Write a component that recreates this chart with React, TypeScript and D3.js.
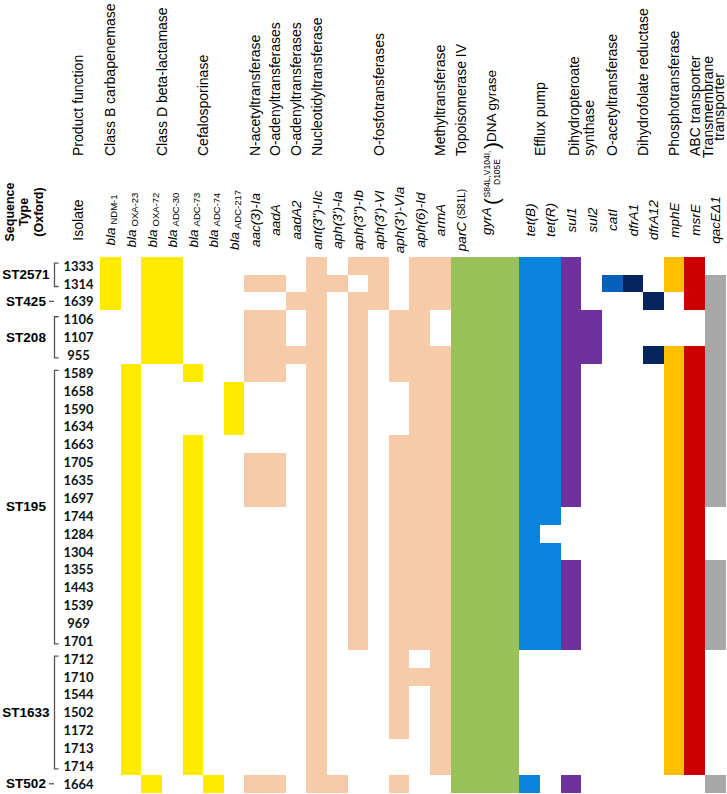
import React from 'react';
import * as d3 from 'd3';

// ---------------- DATA ----------------
const isolates = ['1333','1314','1639','1106','1107','955','1589','1658','1590','1634','1663','1705','1635','1697','1744','1284','1304','1355','1443','1539','969','1701','1712','1710','1544','1502','1172','1713','1714','1664'];

const stNames = ['ST2571','ST425','ST208','ST195','ST1633','ST502'];
const stSizes = [2, 1, 3, 16, 7, 1];

const geneIds = ['blaNDM-1','blaOXA-23','blaOXA-72','blaADC-30','blaADC-73','blaADC-74','blaADC-217','aac(3)-Ia','aadA','aadA2',"ant(3'')-IIc","aph(3')-Ia","aph(3'')-Ib","aph(3')-VI","aph(3')-VIa",'aph(6)-Id','armA','parC','gyrA','tet(B)','tet(R)','sul1','sul2','catI','dfrA1','dfrA12','mphE','msrE','qacEΔ1'];
const geneMain = ['bla','bla','bla','bla','bla','bla','bla','aac(3)-Ia','aadA','aadA2',"ant(3'')-IIc","aph(3')-Ia","aph(3'')-Ib","aph(3')-VI","aph(3')-VIa",'aph(6)-Id','armA','parC','gyrA','tet(B)','tet(R)','sul1','sul2','catI','dfrA1','dfrA12','mphE','msrE','qacEΔ1'];
const geneSub = ['NDM-1','OXA-23','OXA-72','ADC-30','ADC-73','ADC-74','ADC-217','','','','','','','','','','','','','','','','','','','','','',''];
const gyrAMutations = ['S84L,V104I,', 'D105E'];
const parCMutation = '(S81L)';

// presence per gene, one char per isolate (rows 0-9 | 10-19 | 20-29)
const presence = [
  '1110000000 0000000000 0000000000', // blaNDM-1
  '0000001111 1111111111 1111111110', // blaOXA-23
  '1111110000 0000000000 0000000001', // blaOXA-72
  '1111110000 0000000000 0000000000', // blaADC-30
  '0000001000 1111111111 1111111110', // blaADC-73
  '0000000000 0000000000 0000000001', // blaADC-74
  '0000000111 0000000000 0000000000', // blaADC-217
  '0101111000 0111000000 0000000001', // aac(3)-Ia
  '0101111000 0111000000 0000000001', // aadA
  '0010010000 0000000000 0000000000', // aadA2
  '1111111111 1111111111 1111111111', // ant(3'')-IIc
  '0100000000 0000000000 0000000001', // aph(3')-Ia
  '1011111111 1111111111 1100000000', // aph(3'')-Ib
  '1110000000 0000000000 0000000000', // aph(3')-VI
  '0001111000 1111111111 1111111001', // aph(3')-VIa
  '1111111111 1111111111 1101000000', // aph(6)-Id
  '1110011111 1111111111 1111111110', // armA
  '1111111111 1111111111 1111111111', // parC
  '1111111111 1111111111 1111111111', // gyrA
  '1111111111 1111111111 1100000001', // tet(B)
  '1111111111 1111101111 1100000000', // tet(R)
  '1111111111 1111000111 1100000001', // sul1
  '0001110000 0000000000 0000000000', // sul2
  '0100000000 0000000000 0000000000', // catI
  '0100000000 0000000000 0000000000', // dfrA1
  '0010010000 0000000000 0000000000', // dfrA12
  '1100011111 1111111111 1111111110', // mphE
  '1110011111 1111111111 1111111110', // msrE
  '0111111111 1111000111 1100000001', // qacEΔ1
];

const productLabels = [
  ['Class B carbapenemase'], ['Class D beta-lactamase'], ['Cefalosporinase'], ['N-acetyltransferase'],
  ['O-adenyltransferases'], ['O-adenyltransferases'], ['Nucleotidyltransferase'], ['O-fosfotransferases'],
  ['Methyltransferase'], ['Topoisomerase IV'], ['Efflux pump'], ['Dihydropteroate', 'synthase'],
  ['O-acetyltransferase'], ['Dihydrofolate reductase'], ['Phosphotransferase'], ['ABC transporter'],
  ['Transmembrane', 'transporter'],
];
const productFrom = ['blaNDM-1','blaOXA-72','blaADC-73','aac(3)-Ia','aadA','aadA2',"ant(3'')-IIc","aph(3')-Ia",'armA','parC','tet(B)','sul1','catI','dfrA1','mphE','msrE','qacEΔ1'];
const productTo = ['blaNDM-1','blaADC-30','blaADC-74','aac(3)-Ia','aadA','aadA2',"ant(3'')-IIc",'aph(6)-Id','armA','parC','tet(R)','sul2','catI','dfrA12','mphE','msrE','qacEΔ1'];

// ---------------- STYLE ----------------
const C_YEL = '#FFEA00', C_PEACH = '#F6CBAA', C_GREEN = '#9BC25A', C_BLUE = '#0A83DD', C_PURPLE = '#6E329E';
const geneColors = [C_YEL, C_YEL, C_YEL, C_YEL, C_YEL, C_YEL, C_YEL,
  C_PEACH, C_PEACH, C_PEACH, C_PEACH, C_PEACH, C_PEACH, C_PEACH, C_PEACH, C_PEACH, C_PEACH,
  C_GREEN, C_GREEN, C_BLUE, C_BLUE, C_PURPLE, C_PURPLE, '#0860BE', '#06245E', '#06245E', '#FFC000', '#CC0000', '#A8A8A8'];

const SANS = '"Liberation Sans", Arial, sans-serif';

export default function App() {
  const W = 727, H = 794;
  const left = 100, right = 725.7, top = 256.7, bottom = 792.7;
  const widths = geneIds.map(g => (g === 'gyrA' ? 2.33 : 1));
  const cum: number[] = [0];
  widths.forEach(w => cum.push(cum[cum.length - 1] + w));
  const x = d3.scaleLinear().domain([0, cum[cum.length - 1]]).range([left, right]);
  const y = d3.scaleBand<string>().domain(isolates).range([top, bottom]).padding(0);
  const bw = y.bandwidth();
  const colX0 = (i: number) => x(cum[i]);
  const colX1 = (i: number) => x(cum[i + 1]);
  const colC = (i: number) => (colX0(i) + colX1(i)) / 2;
  const gi = (id: string) => geneIds.indexOf(id);

  const cells: JSX.Element[] = [];
  presence.forEach((s, gIdx) => {
    const bits = s.replace(/\s/g, '');
    bits.split('').forEach((b, r) => {
      if (b === '1') {
        cells.push(
          <rect key={`c${gIdx}-${r}`} x={colX0(gIdx)} y={y(isolates[r])} width={colX1(gIdx) - colX0(gIdx)} height={bw}
            fill={geneColors[gIdx]} shapeRendering="crispEdges" />
        );
      }
    });
  });

  // ST groups
  const groups: JSX.Element[] = [];
  let start = 0;
  stNames.forEach((st, k) => {
    const n = stSizes[k];
    const r0 = start, r1 = start + n - 1;
    const yTop = y(isolates[r0])!;
    const yBot = y(isolates[r1])! + bw;
    const cy = (yTop + yBot) / 2;
    groups.push(
      <text key={`st${k}`} x={26} y={cy} textAnchor="middle" dominantBaseline="central" fontFamily={SANS} fontWeight="bold" fontSize={13.5}>{st}</text>
    );
    if (n === 1) {
      groups.push(<line key={`d${k}`} x1={49} x2={54} y1={cy} y2={cy} stroke="#555" strokeWidth={1.3} />);
    } else {
      const a = yTop + bw / 2 - 2.5, b = yBot - bw / 2 + 3;
      groups.push(<path key={`b${k}`} d={`M58.5,${a}H54.5V${b}H58.5`} fill="none" stroke="#555" strokeWidth={1.3} />);
    }
    start += n;
  });

  const geneLabelY = 220;
  const pfBottom = 156;
  const gyrIdx = gi('gyrA');
  const gx = colX0(gyrIdx) + 15.5;

  return (
    <svg width={W} height={H} style={{ position: 'absolute', left: 0, top: 0, background: '#fff' }} fontFamily={SANS}>
      <rect x={0} y={0} width={W} height={H} fill="#fff" />
      {cells}

      {/* header left */}
      <g transform={`translate(0,212) rotate(-90)`} fontWeight="bold" fontSize={12.5} textAnchor="middle">
        <text x={0} y={9.5} dominantBaseline="central">Sequence</text>
        <text x={0} y={24} dominantBaseline="central">Type</text>
        <text x={0} y={38.5} dominantBaseline="central">(Oxford)</text>
      </g>
      <text transform={`translate(77.5,${geneLabelY}) rotate(-90)`} textAnchor="middle" dominantBaseline="central" fontSize={14}>Isolate</text>
      <text transform={`translate(77.5,${pfBottom}) rotate(-90)`} textAnchor="start" dominantBaseline="central" fontSize={14}>Product function</text>

      {/* product function labels */}
      {productLabels.map((lines, k) => {
        const i0 = gi(productFrom[k]), i1 = gi(productTo[k]);
        const cx = (colX0(i0) + colX1(i1)) / 2;
        if (lines.length === 1) {
          return <text key={`pf${k}`} transform={`translate(${cx},${pfBottom}) rotate(-90)`} dominantBaseline="central" fontSize={14}>{lines[0]}</text>;
        }
        const centered = lines[0] === 'Transmembrane';
        const offs = centered ? [-7, 4] : [-7.5, 7.5];
        return (
          <g key={`pf${k}`}>
            {lines.map((ln, j) => (
              <text key={j} transform={`translate(${cx + offs[j]},${centered ? 107 : pfBottom}) rotate(-90)`}
                textAnchor={centered ? 'middle' : 'start'} dominantBaseline="central" fontSize={14}>{ln}</text>
            ))}
          </g>
        );
      })}

      {/* gyrA composite label */}
      <g transform={`translate(${gx},235) rotate(-90)`}>
        <text x={0} y={0} fontStyle="italic" fontSize={13.5} dominantBaseline="central">gyrA</text>
        <text x={30} y={5} fontSize={21} dominantBaseline="central" fontWeight="300">(</text>
        <text x={61} y={0.5} fontSize={8.5} textAnchor="middle" dominantBaseline="central">{gyrAMutations[0]}</text>
        <text x={63} y={10} fontSize={8.5} textAnchor="middle" dominantBaseline="central">{gyrAMutations[1]}</text>
        <text x={86} y={5} fontSize={21} dominantBaseline="central" fontWeight="300">)</text>
        <text x={93} y={5} fontSize={13.5} dominantBaseline="central">DNA gyrase</text>
      </g>

      {/* gene labels */}
      {geneIds.map((g, i) => {
        if (g === 'gyrA') return null;
        const cx = colC(i);
        return (
          <text key={`g${i}`} transform={`translate(${cx},${geneLabelY}) rotate(-90)`} textAnchor="middle" dominantBaseline="central" fontSize={13.5}>
            <tspan fontStyle="italic">{geneMain[i]}</tspan>
            {geneSub[i] ? <tspan fontSize={9.5} dx={3} dy={3}>{geneSub[i]}</tspan> : null}
            {g === 'parC' ? <tspan fontSize={10} dx={3}>{parCMutation}</tspan> : null}
          </text>
        );
      })}

      {/* isolate labels */}
      {isolates.map(iso => (
        <text key={`i${iso}`} x={78.5} y={y(iso)! + bw / 2} textAnchor="middle" dominantBaseline="central"
          fontFamily="Lato, sans-serif" fontWeight="bold" fontSize={13} fill="#111">{iso}</text>
      ))}
      {groups}
    </svg>
  );
}
